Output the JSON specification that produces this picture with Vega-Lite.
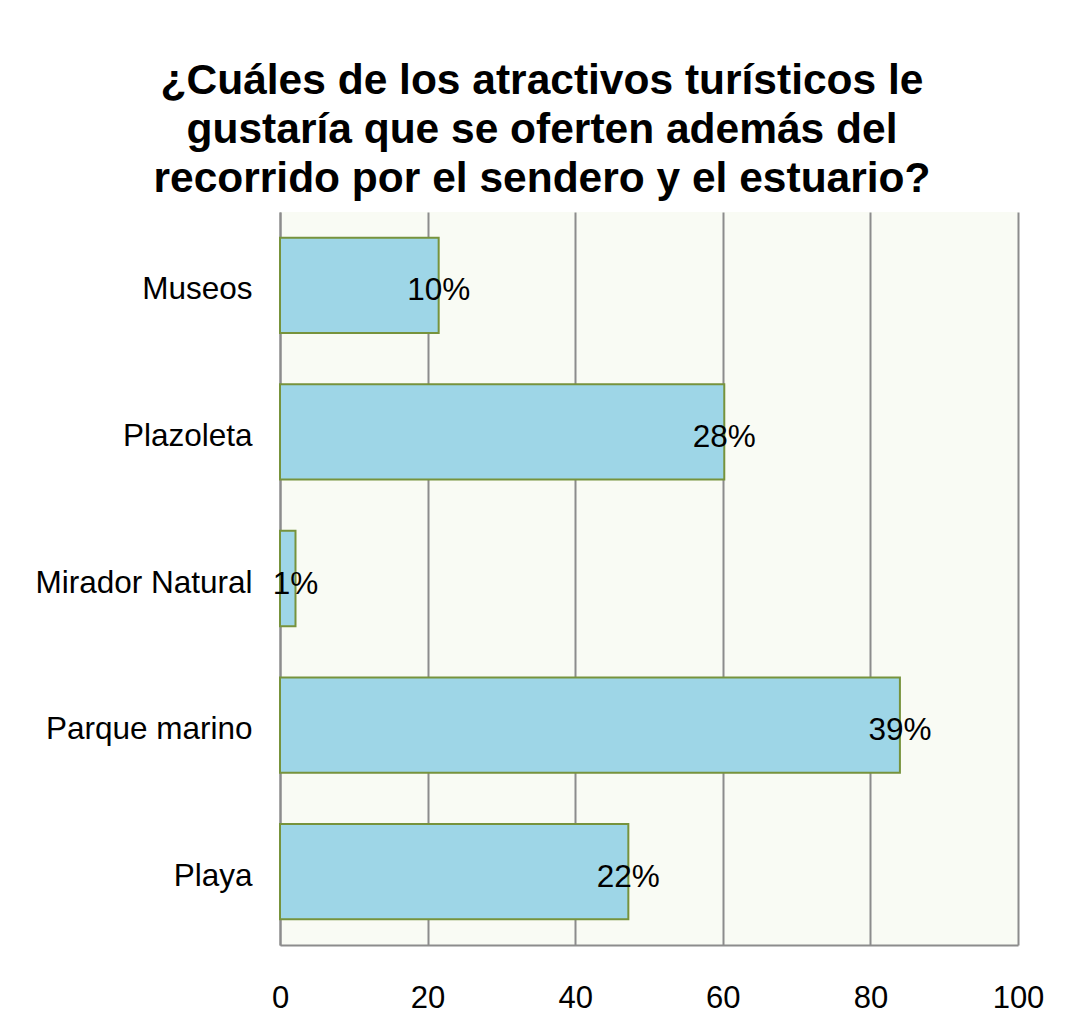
{
  "$schema": "https://vega.github.io/schema/vega-lite/v6.json",
  "autosize": "none",
  "width": 738,
  "height": 733,
  "padding": {"left": 280, "top": 212, "right": 52, "bottom": 74},
  "background": "#ffffff",
  "title": {
    "text": ["¿Cuáles de los atractivos turísticos le", "gustaría que se oferten además del", "recorrido por el sendero y el estuario?"],
    "font": "Liberation Sans",
    "fontSize": 42.5,
    "fontWeight": "bold",
    "color": "#000000",
    "lineHeight": 49,
    "anchor": "middle",
    "dx": -107,
    "offset": 12
  },
  "data": {
    "values": [
      {"atractivo": "Museos", "valor": 21.5, "pct": "10%"},
      {"atractivo": "Plazoleta", "valor": 60.2, "pct": "28%"},
      {"atractivo": "Mirador Natural", "valor": 2.1, "pct": "1%"},
      {"atractivo": "Parque marino", "valor": 84, "pct": "39%"},
      {"atractivo": "Playa", "valor": 47.2, "pct": "22%"}
    ]
  },
  "encoding": {
    "y": {
      "field": "atractivo",
      "type": "nominal",
      "sort": null,
      "scale": {"paddingInner": 0.35, "paddingOuter": 0.175},
      "axis": {
        "title": null,
        "domainColor": "#8c8c8c",
        "domainWidth": 2,
        "ticks": false,
        "grid": false,
        "labelFont": "Liberation Sans",
        "labelFontSize": 31.5,
        "labelColor": "#000000",
        "labelPadding": 28,
        "labelOffset": 5,
        "labelLimit": 300
      }
    },
    "x": {
      "field": "valor",
      "type": "quantitative",
      "scale": {"domain": [0, 100], "nice": false},
      "axis": {
        "title": null,
        "values": [0, 20, 40, 60, 80, 100],
        "domainColor": "#8c8c8c",
        "domainWidth": 2,
        "ticks": false,
        "grid": true,
        "gridColor": "#8c8c8c",
        "gridWidth": 2,
        "gridOpacity": 1,
        "labelFont": "Liberation Sans",
        "labelFontSize": 31,
        "labelColor": "#000000",
        "labelPadding": 38,
        "labelFlush": false
      }
    }
  },
  "layer": [
    {
      "mark": {"type": "bar", "fill": "#9ED6E7", "stroke": "#77933C", "strokeWidth": 2}
    },
    {
      "mark": {"type": "text", "align": "center", "baseline": "middle", "dy": 6, "font": "Liberation Sans", "fontSize": 31.5, "color": "#000000"},
      "encoding": {"text": {"field": "pct"}}
    }
  ],
  "config": {
    "view": {"fill": "#F9FBF4", "stroke": null}
  }
}
